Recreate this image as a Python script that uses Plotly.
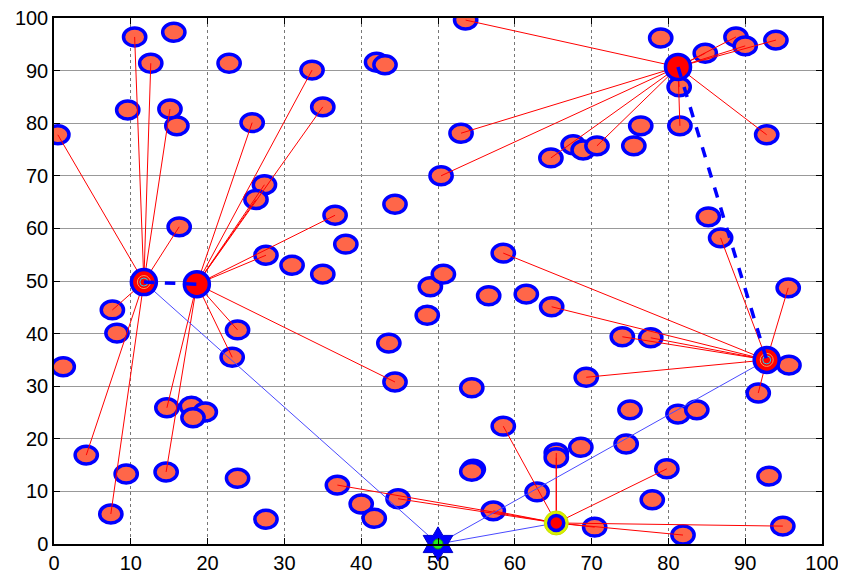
import plotly.graph_objects as go

# ---- data ----
heads_x = [11.7, 18.6, 65.4, 81.25, 92.8]
heads_y = [49.8, 49.4, 4.0, 90.7, 35.0]
bs_x = [50.0]
bs_y = [0.0]

# member nodes per cluster head
c0_x = [0.5, 10.5, 12.6, 15.1, 16.3, 7.6, 4.2, 7.4]
c0_y = [77.8, 96.4, 91.4, 82.7, 60.3, 44.5, 16.9, 5.7]
c1_x = [25.8, 33.6, 35.0, 27.4, 26.3, 36.6, 27.6, 23.9, 23.2, 44.4, 14.7, 14.6]
c1_y = [80.1, 90.1, 83.1, 68.3, 65.5, 62.5, 54.9, 40.7, 35.5, 30.8, 25.9, 13.7]
c2_x = [36.9, 44.8, 57.2, 58.5, 65.4, 65.4, 79.8, 70.4, 81.9, 94.9]
c2_y = [11.2, 8.6, 6.3, 22.4, 17.3, 16.4, 14.3, 3.2, 1.7, 3.4]
c3_x = [53.6, 53.0, 50.4, 64.7, 70.7, 81.5, 81.4, 84.8, 88.8, 90.0, 94.0, 92.8]
c3_y = [99.6, 78.1, 70.0, 73.4, 75.7, 79.5, 86.9, 93.3, 96.4, 94.7, 95.8, 77.8]
c4_x = [86.8, 95.6, 91.7, 69.3, 74.0, 77.7, 64.8, 58.5]
c4_y = [58.2, 48.7, 28.7, 31.7, 39.4, 39.2, 45.1, 55.3]

# unconnected nodes
free_x = [1.2, 8.2, 9.4, 9.6, 15.6, 16.0, 17.9, 19.7, 18.1, 22.8, 23.9, 27.6, 31.0,
          35.0, 38.0, 40.0, 41.7, 42.0, 43.1, 44.4, 43.6, 49.0, 48.6, 50.7, 54.4,
          54.6, 54.4, 56.6, 61.5, 62.9, 68.6, 67.6, 68.9, 75.5, 76.4, 79.0, 85.2,
          95.7, 81.25, 83.7, 75.0, 74.5, 77.9, 93.1]
free_y = [33.7, 40.1, 13.3, 82.5, 97.3, 79.5, 26.2, 25.1, 24.0, 91.4, 12.5, 4.7, 53.0,
          51.3, 57.0, 7.6, 4.9, 91.6, 91.1, 64.6, 38.2, 48.9, 43.5, 51.3, 29.7,
          14.2, 13.8, 47.2, 47.5, 9.9, 18.4, 75.9, 74.9, 75.7, 79.5, 96.2, 62.2,
          34.0, 24.7, 25.5, 25.5, 19.0, 8.4, 12.9]

clusters = [(c0_x, c0_y), (c1_x, c1_y), (c2_x, c2_y), (c3_x, c3_y), (c4_x, c4_y)]
dashed_links = [(0, 1), (3, 4)]   # head-to-head
bs_links = [0, 2, 4]              # heads linked to base station

fig = go.Figure()

# node ellipses (shapes in data coordinates)
all_x = free_x + [x for cx, _ in clusters for x in cx]
all_y = free_y + [y for _, cy in clusters for y in cy]
rx, ry = 1.45, 1.7
for x, y in zip(all_x, all_y):
    fig.add_shape(type="circle", xref="x", yref="y",
                  x0=x - rx, x1=x + rx, y0=y - ry, y1=y + ry,
                  line=dict(color="#0000FF", width=3.5),
                  fillcolor="#FF6649", layer="between")

# red member links
lx, ly = [], []
for h, (cx, cy) in enumerate(clusters):
    for x, y in zip(cx, cy):
        lx += [heads_x[h], x, None]
        ly += [heads_y[h], y, None]
fig.add_trace(go.Scatter(x=lx, y=ly, mode="lines",
                         line=dict(color="#FF0000", width=1), hoverinfo="skip"))

# thin blue links to base station
bx, by = [], []
for h in bs_links:
    bx += [bs_x[0], heads_x[h], None]
    by += [bs_y[0], heads_y[h], None]
fig.add_trace(go.Scatter(x=bx, y=by, mode="lines",
                         line=dict(color="#4A4AFF", width=1), hoverinfo="skip"))

# head 3 yellow halo
fig.add_trace(go.Scatter(x=[heads_x[2]], y=[heads_y[2]], mode="markers",
                         marker=dict(symbol="circle", size=24, color="#D8F000", opacity=1,
                                     line=dict(color="#C8E000", width=1))))

# cluster heads
head_sizes = [25, 25, 15, 25, 25]
fig.add_trace(go.Scatter(x=heads_x, y=heads_y, mode="markers",
                         marker=dict(symbol="circle", size=head_sizes, color="#FF0000",
                                     opacity=1, line=dict(color="#0000FF", width=3.5))))
# concentric rings in some heads
ring_x = [heads_x[0], heads_x[4]]
ring_y = [heads_y[0], heads_y[4]]
for s in [13, 8]:
    fig.add_trace(go.Scatter(x=ring_x, y=ring_y, mode="markers",
                             marker=dict(symbol="circle-open", size=s, opacity=1,
                                         line=dict(color="#B00000", width=1))))

# dashed head-to-head links
dx, dy = [], []
for a, b in dashed_links:
    dx += [heads_x[a], heads_x[b], None]
    dy += [heads_y[a], heads_y[b], None]
fig.add_trace(go.Scatter(x=dx, y=dy, mode="lines",
                         line=dict(color="#0000FF", width=3.5, dash="dash"),
                         hoverinfo="skip"))

# base station
fig.add_trace(go.Scatter(x=bs_x, y=bs_y, mode="markers",
                         marker=dict(symbol="hexagram", size=26, color="#0000FF", opacity=1,
                                     line=dict(color="#0000CC", width=1)),
                         cliponaxis=False))
fig.add_trace(go.Scatter(x=bs_x, y=bs_y, mode="markers",
                         marker=dict(symbol="circle", size=10, color="#22EE22", opacity=1,
                                     line=dict(color="#119911", width=1)),
                         cliponaxis=False))

axis_common = dict(range=[0, 100], dtick=10, showline=True, linecolor="black",
                   linewidth=1.5, mirror="ticks", ticks="inside", ticklen=6,
                   tickcolor="black", zeroline=False, showgrid=True, automargin=False,
                   ticklabeloverflow="allow",
                   tickfont=dict(family="Liberation Sans, Arial", size=20, color="black"))
fig.update_layout(
    width=846, height=573,
    margin=dict(l=46, r=32, t=10, b=37),
    paper_bgcolor="white", plot_bgcolor="white",
    showlegend=False,
    xaxis=dict(**axis_common, gridcolor="#777777", griddash="dot", gridwidth=1),
    yaxis=dict(**axis_common, gridcolor="#999999", gridwidth=1),
)
fig.write_html("out.html")
